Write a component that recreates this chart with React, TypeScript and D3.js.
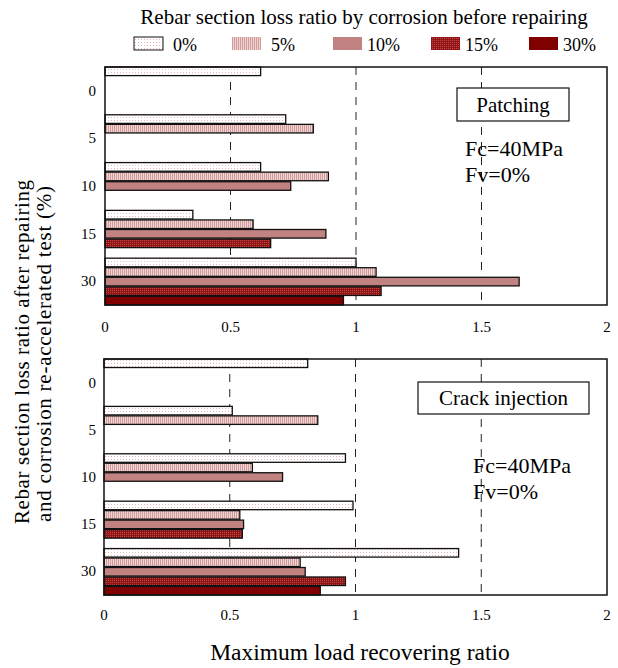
import { useEffect, useRef } from "react";
import * as d3 from "d3";

// after-repair loss ratio groups (y axis) and before-repair loss ratio series (legend)
const groups = ["0", "5", "10", "15", "30"];
const series = ["0%", "5%", "10%", "15%", "30%"];
const xTicks = [0, 0.5, 1, 1.5, 2];
const gridTicks = [0.5, 1, 1.5];

// one array per group, values in series order (only series <= group exist)
const patchingValues = [
  [0.62],
  [0.72, 0.83],
  [0.62, 0.89, 0.74],
  [0.35, 0.59, 0.88, 0.66],
  [1.0, 1.08, 1.65, 1.1, 0.95],
];
const crackValues = [
  [0.81],
  [0.51, 0.85],
  [0.96, 0.59, 0.71],
  [0.99, 0.54, 0.555, 0.55],
  [1.41, 0.78, 0.8, 0.96, 0.86],
];

const FONT = "'Liberation Serif', 'Times New Roman', serif";
const fills = ["url(#p0)", "url(#p5)", "#c18282", "url(#p15)", "#800000"];

export default function App() {
  const ref = useRef<SVGSVGElement>(null);

  useEffect(() => {
    const el = ref.current;
    if (!el) return;
    const svg = d3.select(el);
    svg.selectAll("*").remove();

    const defs = svg.append("defs");
    // 0%: white with faint pink dots
    const p0 = defs.append("pattern").attr("id", "p0").attr("width", 3).attr("height", 3)
      .attr("patternUnits", "userSpaceOnUse");
    p0.append("rect").attr("width", 3).attr("height", 3).attr("fill", "#ffffff");
    p0.append("rect").attr("width", 1).attr("height", 1).attr("fill", "#e8b8b8");
    // 5%: light pink vertical stripes
    const p5 = defs.append("pattern").attr("id", "p5").attr("width", 2).attr("height", 2)
      .attr("patternUnits", "userSpaceOnUse");
    p5.append("rect").attr("width", 2).attr("height", 2).attr("fill", "#f0d4d4");
    p5.append("rect").attr("width", 1).attr("height", 2).attr("fill", "#d09c9c");
    // 15%: dark red with lighter dots
    const p15 = defs.append("pattern").attr("id", "p15").attr("width", 2).attr("height", 2)
      .attr("patternUnits", "userSpaceOnUse");
    p15.append("rect").attr("width", 2).attr("height", 2).attr("fill", "#901414");
    p15.append("rect").attr("width", 1).attr("height", 1).attr("fill", "#c04a4a");

    // title + legend
    svg.append("text")
      .attr("x", 364).attr("y", 24)
      .attr("text-anchor", "middle")
      .attr("font-family", FONT).attr("font-size", 21)
      .text("Rebar section loss ratio by corrosion before repairing");

    const legendX = [134, 232, 333, 431, 529];
    series.forEach((s, i) => {
      svg.append("rect")
        .attr("x", legendX[i]).attr("y", 37)
        .attr("width", 29).attr("height", 13)
        .attr("fill", fills[i])
        .attr("stroke", i === 0 ? "#111" : "none")
        .attr("stroke-width", 1);
      svg.append("text")
        .attr("x", legendX[i] + (i < 2 ? 39 : 34)).attr("y", 50.5)
        .attr("font-family", FONT).attr("font-size", 18)
        .text(s);
    });

    const slotKeys = groups.flatMap((g) => series.map((s) => `${g}|${s}`));

    function panel(
      values: number[][],
      box: { left: number; right: number; top: number; bottom: number },
      tickY: number,
      label: { x: number; y: number; w: number; h: number; text: string },
      note: { x: number; y: number }
    ) {
      const x = d3.scaleLinear().domain([0, 2]).range([box.left, box.right]);
      const y = d3.scaleBand().domain(slotKeys).range([box.top, box.bottom]).paddingInner(0.1);
      const gy = d3.scaleBand().domain(groups).range([box.top, box.bottom]);
      const g = svg.append("g");

      g.selectAll("line.grid").data(gridTicks).join("line")
        .attr("class", "grid")
        .attr("x1", (d) => x(d)).attr("x2", (d) => x(d))
        .attr("y1", box.top).attr("y2", box.bottom)
        .attr("stroke", "#222").attr("stroke-width", 1)
        .attr("stroke-dasharray", "8,7");

      const bars = values.flatMap((vals, gi) =>
        vals.map((v, si) => ({ g: groups[gi], si, v }))
      );
      g.selectAll("rect.bar").data(bars).join("rect")
        .attr("class", "bar")
        .attr("x", x(0))
        .attr("y", (d) => y(`${d.g}|${series[d.si]}`)!)
        .attr("width", (d) => x(d.v) - x(0))
        .attr("height", y.bandwidth())
        .attr("fill", (d) => fills[d.si])
        .attr("stroke", "#111").attr("stroke-width", 1.3);

      g.append("rect")
        .attr("x", box.left).attr("y", box.top)
        .attr("width", box.right - box.left).attr("height", box.bottom - box.top)
        .attr("fill", "none").attr("stroke", "#111").attr("stroke-width", 1.5);

      g.selectAll("text.xt").data(xTicks).join("text")
        .attr("class", "xt")
        .attr("x", (d) => x(d)).attr("y", tickY)
        .attr("text-anchor", "middle")
        .attr("font-family", FONT).attr("font-size", 15)
        .text((d) => String(d));

      g.selectAll("text.yt").data(groups).join("text")
        .attr("class", "yt")
        .attr("x", 96).attr("y", (d) => gy(d)! + gy.bandwidth() / 2 + 5)
        .attr("text-anchor", "end")
        .attr("font-family", FONT).attr("font-size", 15)
        .text((d) => d);

      g.append("rect")
        .attr("x", label.x).attr("y", label.y)
        .attr("width", label.w).attr("height", label.h)
        .attr("fill", "#fff").attr("stroke", "#111").attr("stroke-width", 1.2);
      g.append("text")
        .attr("x", label.x + label.w / 2).attr("y", label.y + label.h - 9)
        .attr("text-anchor", "middle")
        .attr("font-family", FONT).attr("font-size", 21)
        .text(label.text);

      g.append("text")
        .attr("x", note.x).attr("y", note.y)
        .attr("font-family", FONT).attr("font-size", 22)
        .text("Fc=40MPa");
      g.append("text")
        .attr("x", note.x).attr("y", note.y + 25.5)
        .attr("font-family", FONT).attr("font-size", 22)
        .text("Fv=0%");
    }

    panel(
      patchingValues,
      { left: 105, right: 607, top: 67, bottom: 305 },
      332,
      { x: 457, y: 88, w: 112, h: 33, text: "Patching" },
      { x: 465, y: 156 }
    );
    panel(
      crackValues,
      { left: 104, right: 607, top: 359, bottom: 595 },
      620,
      { x: 418, y: 382, w: 171, h: 32, text: "Crack injection" },
      { x: 473, y: 473 }
    );

    // axis titles
    svg.append("text")
      .attr("transform", "translate(29,352) rotate(-90)")
      .attr("text-anchor", "middle")
      .attr("font-family", FONT).attr("font-size", 21)
      .attr("textLength", 344).attr("lengthAdjust", "spacing")
      .text("Rebar section loss ratio after repairing");
    svg.append("text")
      .attr("transform", "translate(51,354) rotate(-90)")
      .attr("text-anchor", "middle")
      .attr("font-family", FONT).attr("font-size", 21)
      .attr("textLength", 336).attr("lengthAdjust", "spacing")
      .text("and corrosion re-accelerated test (%)");

    svg.append("text")
      .attr("x", 360).attr("y", 660)
      .attr("text-anchor", "middle")
      .attr("font-family", FONT).attr("font-size", 23.5)
      .text("Maximum load recovering ratio");
  }, []);

  return (
    <svg
      ref={ref}
      width={618}
      height={668}
      style={{ position: "absolute", left: 0, top: 0, background: "#fff" }}
    />
  );
}
